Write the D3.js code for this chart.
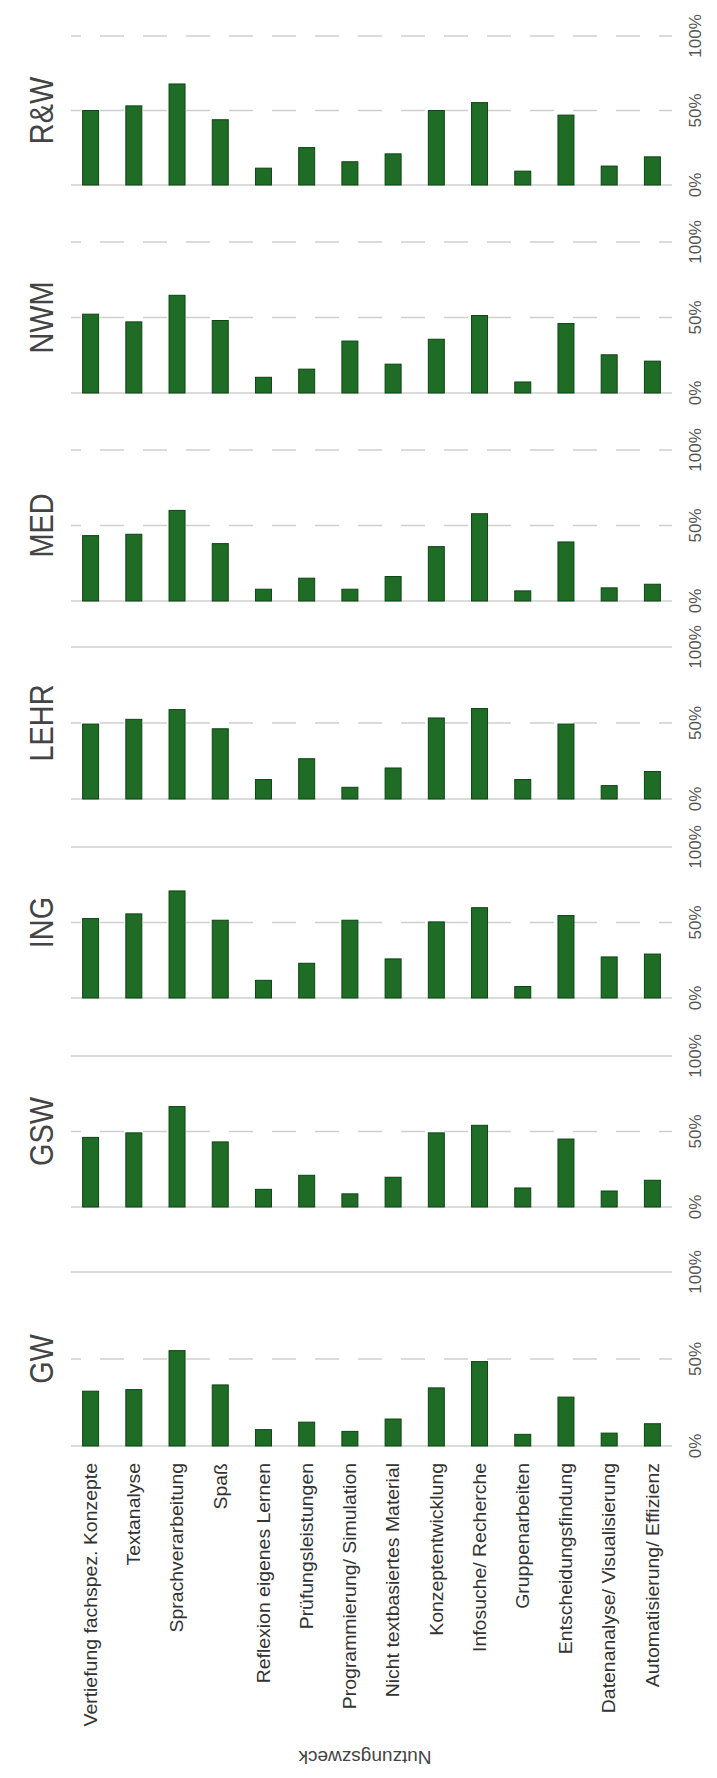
<!DOCTYPE html>
<html>
<head>
<meta charset="UTF-8">
<style>
  body { margin: 0; background: #fff; }
  svg { display: block; font-family: "Liberation Sans", Arial, sans-serif; }
</style>
</head>
<body>
<svg></svg>
<script src="https://d3js.org/d3.v7.min.js"></script>
<script>
let width = 717, height = 1778;

// categories (Nutzungszweck)
var categories = ["Vertiefung fachspez. Konzepte", "Textanalyse", "Sprachverarbeitung", "Spaß",
  "Reflexion eigenes Lernen", "Prüfungsleistungen", "Programmierung/ Simulation",
  "Nicht textbasiertes Material", "Konzeptentwicklung", "Infosuche/ Recherche",
  "Gruppenarbeiten", "Entscheidungsfindung", "Datenanalyse/ Visualisierung",
  "Automatisierung/ Effizienz"];

var panelNames = ["R&W", "NWM", "MED", "LEHR", "ING", "GSW", "GW"];

// share in percent, one array per panel
var rw   = [50.0, 53.1, 67.8, 43.8, 11.3, 25.1, 15.6, 20.9, 50.0, 55.3, 9.3, 46.9, 12.7, 18.9];
var nwm  = [52.2, 47.1, 64.7, 48.0, 10.4, 15.8, 34.4, 19.1, 35.6, 51.3, 7.3, 46.0, 25.3, 21.1];
var med  = [43.3, 44.2, 60.0, 38.0, 7.8, 15.1, 7.8, 16.2, 36.0, 57.8, 6.7, 39.1, 8.7, 11.1];
var lehr = [49.3, 52.4, 58.8, 46.2, 12.8, 26.5, 7.7, 20.4, 53.3, 59.5, 12.8, 49.3, 8.8, 18.1];
var ing  = [52.6, 55.7, 70.9, 51.5, 11.7, 23.0, 51.5, 25.9, 50.4, 59.8, 7.6, 54.6, 27.2, 29.1];
var gsw  = [46.1, 49.1, 66.5, 43.1, 11.7, 21.0, 8.7, 19.7, 49.1, 54.1, 12.6, 45.0, 10.6, 17.7];
var gw   = [31.5, 32.4, 54.8, 35.1, 9.4, 13.7, 8.4, 15.5, 33.4, 48.5, 6.7, 28.1, 7.4, 12.8];

var tickValues = [0, 50, 100];
var tickLabels = ["0%", "50%", "100%"];

var panelValues = [rw, nwm, med, lehr, ing, gsw, gw];

// layout of the stacked panels (pixel positions of 100% and 0% lines)
var panelTop    = [36, 242, 450, 647, 847, 1056, 1272];
var panelBottom = [185, 393, 601, 799, 998, 1207, 1446];
var topDashed   = [true, true, true, false, false, false, false];

let svg = d3.select("svg")
    .attr("width", width)
    .attr("height", height);

var x = d3.scaleBand()
    .domain(categories)
    .range([69, 674])
    .paddingInner(0.63)
    .paddingOuter(0.315);

var gridLeft = 71, gridRight = 672;

panelNames.forEach(function(name, p) {
    var y = d3.scaleLinear()
        .domain([0, 100])
        .range([panelBottom[p], panelTop[p]]);

    var g = svg.append("g").attr("class", "panel");

    // gridlines
    g.selectAll("line.grid")
        .data(tickValues)
        .enter()
        .append("line")
        .attr("class", "grid")
        .attr("x1", gridLeft)
        .attr("x2", gridRight)
        .attr("y1", d => y(d))
        .attr("y2", d => y(d))
        .attr("stroke", "#cfcfcf")
        .attr("stroke-width", 1.3)
        .attr("stroke-dasharray", d => (d == 50 || (d == 100 && topDashed[p])) ? "24,19" : null)
        .attr("stroke-dashoffset", 14);

    // bars
    g.selectAll("rect")
        .data(panelValues[p])
        .enter()
        .append("rect")
        .attr("x", (d, i) => x(categories[i]))
        .attr("y", d => y(d))
        .attr("width", x.bandwidth())
        .attr("height", d => y(0) - y(d))
        .attr("fill", "#1f6c26")
        .attr("stroke", "#0c4413")
        .attr("stroke-width", 1);

    // tick labels (rotated)
    g.selectAll("text.tick")
        .data(tickValues)
        .enter()
        .append("text")
        .attr("class", "tick")
        .attr("transform", d => "translate(695," + y(d) + ") rotate(-90)")
        .attr("text-anchor", "middle")
        .attr("dy", "0.35em")
        .attr("fill", "#555")
        .style("font-size", "17px")
        .text((d, i) => tickLabels[i]);

    // panel title
    g.append("text")
        .attr("transform", "translate(41," + ((panelTop[p] + panelBottom[p]) / 2) + ") rotate(-90) scale(0.85,1)")
        .attr("text-anchor", "middle")
        .attr("dy", "0.35em")
        .attr("fill", "#444")
        .style("font-size", "34px")
        .text(name);
});

// category labels
svg.append("g")
    .selectAll("text")
    .data(categories)
    .enter()
    .append("text")
    .attr("transform", d => "translate(" + (x(d) + x.bandwidth() / 2) + ",1463) rotate(-90) scale(1.08,1)")
    .attr("text-anchor", "end")
    .attr("dy", "0.35em")
    .attr("fill", "#333")
    .style("font-size", "18px")
    .text(d => d);

// axis title, upside down
svg.append("text")
    .attr("transform", "translate(365,1758) rotate(180)")
    .attr("text-anchor", "middle")
    .attr("dy", "0.35em")
    .attr("fill", "#444")
    .style("font-size", "19px")
    .text("Nutzungszweck");
</script>
</body>
</html>
